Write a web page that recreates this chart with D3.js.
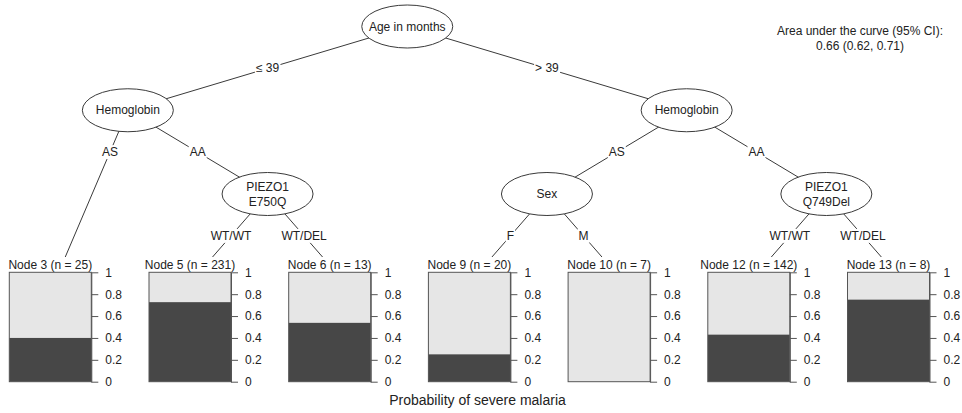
<!DOCTYPE html>
<html>
<head>
<meta charset="utf-8">
<script src="https://cdn.jsdelivr.net/npm/d3@7/dist/d3.min.js"></script>
<style>
  html, body { margin: 0; padding: 0; background: #fff; }
  svg { display: block; font-family: "Liberation Sans", Arial, Helvetica, sans-serif; }
</style>
</head>
<body>
<svg id="chart" width="962" height="413"></svg>
<script>
// Inner (split) nodes of the conditional inference tree
const innerIds    = [1, 2, 4, 7, 8, 11];
const innerLabels = [["Age in months"], ["Hemoglobin"], ["PIEZO1", "E750Q"], ["Hemoglobin"], ["Sex"], ["PIEZO1", "Q749Del"]];
const innerDepth  = [0, 1, 2, 1, 2, 2];
// horizontal slot, in units of terminal-node columns
const innerSlot   = [2.5, 0.5, 1.5, 4.5, 3.5, 5.5];

// Terminal nodes
const terminalIds  = [3, 5, 6, 9, 10, 12, 13];
const terminalN    = [25, 231, 13, 20, 7, 142, 8];
const severeProb   = [0.40, 0.727, 0.538, 0.25, 0.0, 0.43, 0.75];

// Edges: parent -> child with split label
const edgeFrom   = [1, 1, 2, 2, 4, 4, 7, 7, 8, 8, 11, 11];
const edgeTo     = [2, 7, 3, 4, 5, 6, 8, 11, 9, 10, 12, 13];
const edgeLabels = ["\u2264 39", "> 39", "AS", "AA", "WT/WT", "WT/DEL", "AS", "AA", "F", "M", "WT/WT", "WT/DEL"];

const probTicks = [0, 0.2, 0.4, 0.6, 0.8, 1];
const xTitle = "Probability of severe malaria";
const aucLines = ["Area under the curve (95% CI):", "0.66 (0.62, 0.71)"];

const svg = d3.select("#chart");
const textColor = "#222";
const lineColor = "#3a3a3a";

// layout scales
const xSlot  = d3.scaleLinear().domain([0, terminalIds.length - 1]).range([58, 896.2]);
const yDepth = d3.scaleLinear().domain([0, 2]).range([26.5, 194]);
const levelStep = yDepth(1) - yDepth(0);
const termTargetY = 274;   // where edges aim into a terminal panel
const termClipY = 257;     // edges stop above the panel header
const barW = 82, barOffset = 48.7;
const yProb = d3.scaleLinear().domain([0, 1]).range([381.7, 272.3]);

// node lookup
const nodes = new Map();
innerIds.forEach((id, i) => nodes.set(id, {
  id, inner: true, x: xSlot(innerSlot[i]), y: yDepth(innerDepth[i]), depth: innerDepth[i], label: innerLabels[i]
}));
terminalIds.forEach((id, i) => nodes.set(id, {
  id, inner: false, x: xSlot(i), y: termTargetY, n: terminalN[i], p: severeProb[i]
}));

const gEdges = svg.append("g");
const gLabels = svg.append("g");
const gNodes = svg.append("g");

edgeFrom.forEach((f, i) => {
  const a = nodes.get(f), b = nodes.get(edgeTo[i]);
  let x2 = b.x, y2 = b.y;
  if (!b.inner) {
    const t = (termClipY - a.y) / (b.y - a.y);
    x2 = a.x + t * (b.x - a.x);
    y2 = termClipY;
  }
  gEdges.append("line")
    .attr("x1", a.x).attr("y1", a.y).attr("x2", x2).attr("y2", y2)
    .attr("stroke", lineColor).attr("stroke-width", 1);

  // split label sits halfway to the next level
  const ly = a.y + levelStep / 2;
  const lt = (ly - a.y) / (b.y - a.y);
  const lx = a.x + lt * (b.x - a.x);
  const g = gLabels.append("g");
  const txt = g.append("text")
    .attr("x", lx).attr("y", ly)
    .attr("text-anchor", "middle").attr("dominant-baseline", "central")
    .attr("font-size", 12).attr("fill", textColor)
    .text(edgeLabels[i]);
  const bb = txt.node().getBBox();
  g.insert("rect", "text")
    .attr("x", bb.x - 1).attr("y", bb.y)
    .attr("width", bb.width + 2).attr("height", bb.height)
    .attr("fill", "#fff");
});

// inner nodes: ellipses with variable names
nodes.forEach(nd => {
  if (!nd.inner) return;
  const g = gNodes.append("g");
  g.append("ellipse")
    .attr("cx", nd.x).attr("cy", nd.y).attr("rx", 45.5).attr("ry", 21.5)
    .attr("fill", "#fff").attr("stroke", lineColor).attr("stroke-width", 1);
  const k = nd.label.length;
  nd.label.forEach((s, j) => {
    g.append("text")
      .attr("x", nd.x).attr("y", nd.y + (j - (k - 1) / 2) * 15)
      .attr("text-anchor", "middle").attr("dominant-baseline", "central")
      .attr("font-size", 12).attr("fill", textColor)
      .text(s);
  });
});

// terminal nodes: stacked bars of the outcome proportion
terminalIds.forEach((id, i) => {
  const nd = nodes.get(id);
  const x0 = nd.x - barOffset;
  const g = gNodes.append("g");
  g.append("text")
    .attr("x", x0 + barW / 2).attr("y", 269)
    .attr("text-anchor", "middle")
    .attr("font-size", 12).attr("fill", textColor)
    .text(`Node ${id} (n = ${nd.n})`);
  g.append("rect")
    .attr("x", x0).attr("y", yProb(1)).attr("width", barW).attr("height", yProb(0) - yProb(1))
    .attr("fill", "#e6e6e6");
  g.append("rect")
    .attr("x", x0).attr("y", yProb(nd.p)).attr("width", barW).attr("height", yProb(0) - yProb(nd.p))
    .attr("fill", "#474747");
  g.append("rect")
    .attr("x", x0).attr("y", yProb(1)).attr("width", barW).attr("height", yProb(0) - yProb(1))
    .attr("fill", "none").attr("stroke", "#555").attr("stroke-width", 1);
  const ax = g.append("g")
    .attr("transform", `translate(${x0 + barW},0)`)
    .call(d3.axisRight(yProb).tickValues(probTicks).tickSize(7).tickSizeOuter(0).tickPadding(7)
      .tickFormat(d => (d === 0 || d === 1) ? String(d) : d3.format(".1f")(d)));
  ax.select(".domain").attr("stroke", "#555");
  ax.selectAll(".tick line").attr("stroke", "#555");
  ax.selectAll(".tick text").attr("font-size", 12).attr("fill", textColor)
    .attr("font-family", "Liberation Sans, Arial, sans-serif");
});

// axis title
svg.append("text")
  .attr("x", 477.5).attr("y", 405)
  .attr("text-anchor", "middle").attr("font-size", 14).attr("fill", textColor)
  .text(xTitle);

// model performance note
aucLines.forEach((s, j) => {
  svg.append("text")
    .attr("x", 860).attr("y", 35 + j * 15)
    .attr("text-anchor", "middle").attr("font-size", 12).attr("fill", textColor)
    .text(s);
});
</script>
</body>
</html>
